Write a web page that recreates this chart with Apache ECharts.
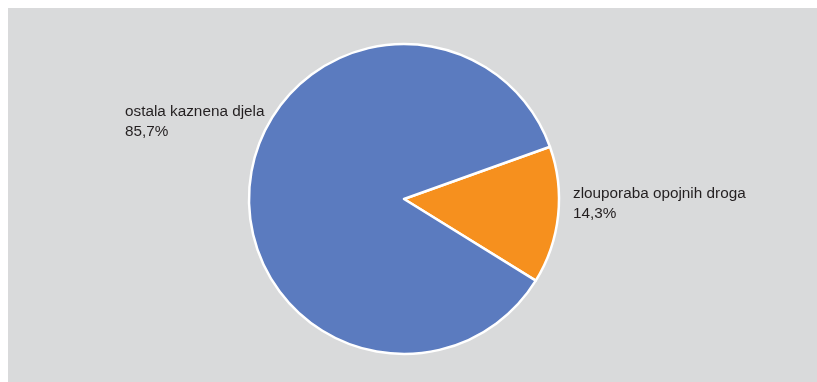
<!DOCTYPE html>
<html><head><meta charset="utf-8">
<script src="https://cdn.jsdelivr.net/npm/echarts@6/dist/echarts.min.js"></script>
<style>
html,body{margin:0;padding:0;background:#fff;}
#c{position:absolute;left:8px;top:8px;width:809px;height:374px;}
</style></head><body>
<div id="c"></div>
<script>
const categories = ['zlouporaba opojnih droga', 'ostala kaznena djela'];
const values = [14.3, 85.7];
const valueLabels = ['14,3%', '85,7%'];
const colors = ['#f6901e', '#5b7bbf'];

const chart = echarts.init(document.getElementById('c'), null, {renderer: 'canvas'});
const labelPos = [
  {x: 565, y: 176},
  {x: 117, y: 94}
];
chart.setOption({
  backgroundColor: '#d9dadb',
  animation: false,
  series: [{
    type: 'pie',
    center: [396, 191],
    radius: 155,
    startAngle: 19.7,
    clockwise: true,
    data: categories.map((c, i) => ({
      name: c, value: values[i],
      itemStyle: {color: colors[i]},
      label: {formatter: c + '\n' + valueLabels[i]}
    })),
    itemStyle: {borderColor: '#fff', borderWidth: 2.5},
    label: {
      show: true, position: 'outside',
      fontFamily: 'Liberation Sans, Arial, sans-serif',
      fontSize: 15.3, color: '#231f20', lineHeight: 20
    },
    labelLine: {show: false},
    labelLayout: function (p) {
      const q = labelPos[p.dataIndex];
      return {x: q.x, y: q.y, align: 'left', verticalAlign: 'top'};
    },
    emphasis: {disabled: true}
  }]
});
</script></body></html>
